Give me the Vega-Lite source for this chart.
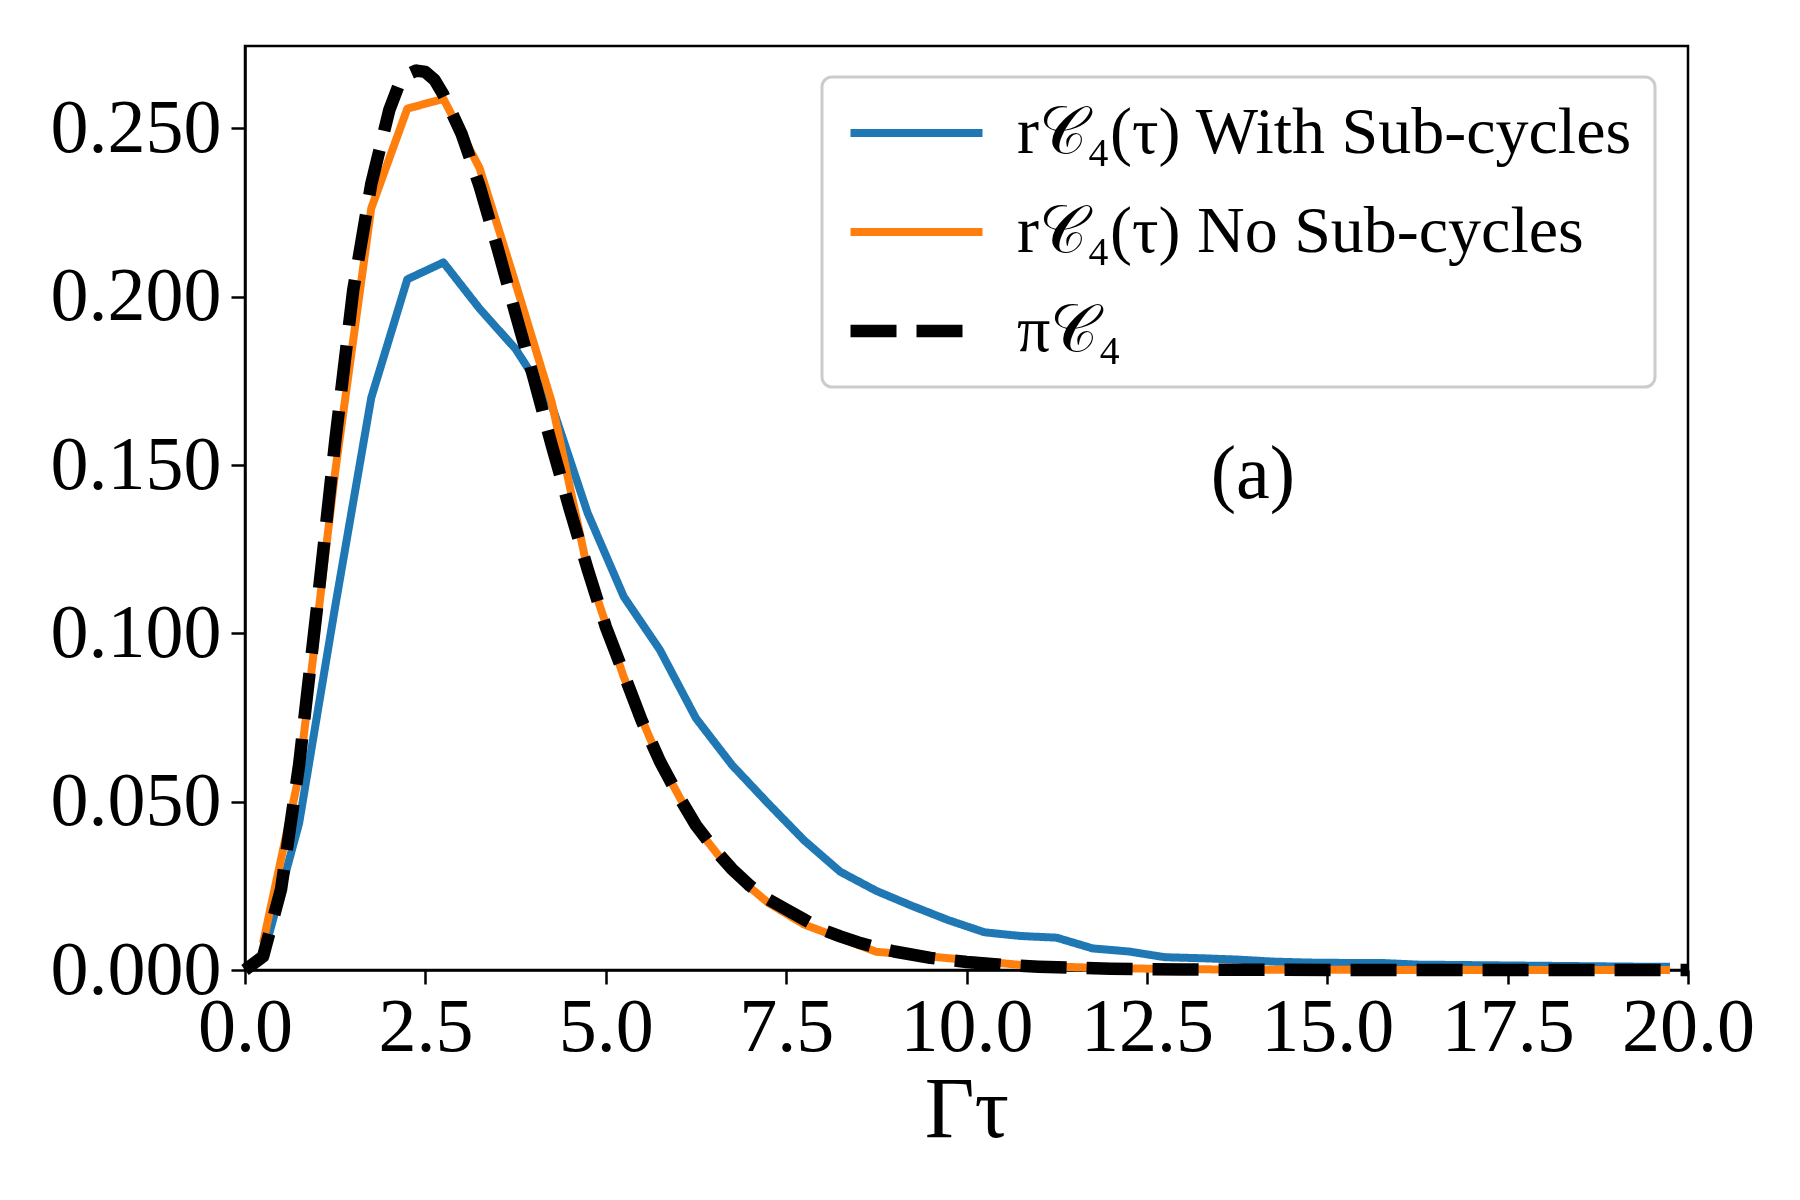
{
  "$schema": "https://vega.github.io/schema/vega-lite/v6.json",
  "width": 1443,
  "height": 924,
  "autosize": {"type": "none"},
  "padding": {"left": 245, "top": 46, "right": 112, "bottom": 230},
  "background": "white",
  "layer": [
    {
      "data": {
        "values": [
          {"x": 0.25, "y": 0.004, "s": "with"},
          {"x": 0.75, "y": 0.0436, "s": "with"},
          {"x": 1.25, "y": 0.108, "s": "with"},
          {"x": 1.75, "y": 0.170, "s": "with"},
          {"x": 2.25, "y": 0.2052, "s": "with"},
          {"x": 2.75, "y": 0.2102, "s": "with"},
          {"x": 3.25, "y": 0.1965, "s": "with"},
          {"x": 3.75, "y": 0.1845, "s": "with"},
          {"x": 4.25, "y": 0.1679, "s": "with"},
          {"x": 4.75, "y": 0.1357, "s": "with"},
          {"x": 5.25, "y": 0.1109, "s": "with"},
          {"x": 5.75, "y": 0.0951, "s": "with"},
          {"x": 6.25, "y": 0.0748, "s": "with"},
          {"x": 6.75, "y": 0.0609, "s": "with"},
          {"x": 7.25, "y": 0.0495, "s": "with"},
          {"x": 7.75, "y": 0.0385, "s": "with"},
          {"x": 8.25, "y": 0.0292, "s": "with"},
          {"x": 8.75, "y": 0.0235, "s": "with"},
          {"x": 9.25, "y": 0.0190, "s": "with"},
          {"x": 9.75, "y": 0.0148, "s": "with"},
          {"x": 10.25, "y": 0.0112, "s": "with"},
          {"x": 10.75, "y": 0.0101, "s": "with"},
          {"x": 11.25, "y": 0.0096, "s": "with"},
          {"x": 11.75, "y": 0.0064, "s": "with"},
          {"x": 12.25, "y": 0.0055, "s": "with"},
          {"x": 12.75, "y": 0.0038, "s": "with"},
          {"x": 13.25, "y": 0.0035, "s": "with"},
          {"x": 13.75, "y": 0.0031, "s": "with"},
          {"x": 14.25, "y": 0.0025, "s": "with"},
          {"x": 14.75, "y": 0.0022, "s": "with"},
          {"x": 15.25, "y": 0.0021, "s": "with"},
          {"x": 15.75, "y": 0.0021, "s": "with"},
          {"x": 16.25, "y": 0.0016, "s": "with"},
          {"x": 16.75, "y": 0.0015, "s": "with"},
          {"x": 17.25, "y": 0.0014, "s": "with"},
          {"x": 17.75, "y": 0.0013, "s": "with"},
          {"x": 18.25, "y": 0.0012, "s": "with"},
          {"x": 18.75, "y": 0.0011, "s": "with"},
          {"x": 19.25, "y": 0.0010, "s": "with"},
          {"x": 19.75, "y": 0.0010, "s": "with"},
          {"x": 0.25, "y": 0.008, "s": "no"},
          {"x": 0.75, "y": 0.058, "s": "no"},
          {"x": 1.25, "y": 0.148, "s": "no"},
          {"x": 1.75, "y": 0.2263, "s": "no"},
          {"x": 2.25, "y": 0.2559, "s": "no"},
          {"x": 2.75, "y": 0.2588, "s": "no"},
          {"x": 3.25, "y": 0.2383, "s": "no"},
          {"x": 3.75, "y": 0.2040, "s": "no"},
          {"x": 4.25, "y": 0.1688, "s": "no"},
          {"x": 4.75, "y": 0.1188, "s": "no"},
          {"x": 5.25, "y": 0.0870, "s": "no"},
          {"x": 5.75, "y": 0.0620, "s": "no"},
          {"x": 6.25, "y": 0.0425, "s": "no"},
          {"x": 6.75, "y": 0.0290, "s": "no"},
          {"x": 7.25, "y": 0.0200, "s": "no"},
          {"x": 7.75, "y": 0.0135, "s": "no"},
          {"x": 8.25, "y": 0.0095, "s": "no"},
          {"x": 8.75, "y": 0.0054, "s": "no"},
          {"x": 9.25, "y": 0.0045, "s": "no"},
          {"x": 9.75, "y": 0.0035, "s": "no"},
          {"x": 10.25, "y": 0.0025, "s": "no"},
          {"x": 10.75, "y": 0.0015, "s": "no"},
          {"x": 11.25, "y": 0.0010, "s": "no"},
          {"x": 11.75, "y": 0.0007, "s": "no"},
          {"x": 12.25, "y": 0.0005, "s": "no"},
          {"x": 12.75, "y": 0.0003, "s": "no"},
          {"x": 13.25, "y": 0.0002, "s": "no"},
          {"x": 14.25, "y": 0.0001, "s": "no"},
          {"x": 15.25, "y": 0.0001, "s": "no"},
          {"x": 16.25, "y": 0.0, "s": "no"},
          {"x": 17.25, "y": 0.0, "s": "no"},
          {"x": 18.25, "y": 0.0, "s": "no"},
          {"x": 19.75, "y": 0.0, "s": "no"},
          {"x": 0.0, "y": 0.0, "s": "pi"},
          {"x": 0.25, "y": 0.004, "s": "pi"},
          {"x": 0.5, "y": 0.024, "s": "pi"},
          {"x": 0.75, "y": 0.061, "s": "pi"},
          {"x": 1.0, "y": 0.108, "s": "pi"},
          {"x": 1.25, "y": 0.157, "s": "pi"},
          {"x": 1.5, "y": 0.202, "s": "pi"},
          {"x": 1.75, "y": 0.2335, "s": "pi"},
          {"x": 2.0, "y": 0.2555, "s": "pi"},
          {"x": 2.125, "y": 0.2625, "s": "pi"},
          {"x": 2.25, "y": 0.2660, "s": "pi"},
          {"x": 2.375, "y": 0.2672, "s": "pi"},
          {"x": 2.5, "y": 0.2668, "s": "pi"},
          {"x": 2.625, "y": 0.2645, "s": "pi"},
          {"x": 2.75, "y": 0.2600, "s": "pi"},
          {"x": 3.0, "y": 0.2485, "s": "pi"},
          {"x": 3.25, "y": 0.233, "s": "pi"},
          {"x": 3.5, "y": 0.2145, "s": "pi"},
          {"x": 3.75, "y": 0.195, "s": "pi"},
          {"x": 4.0, "y": 0.176, "s": "pi"},
          {"x": 4.25, "y": 0.156, "s": "pi"},
          {"x": 4.5, "y": 0.137, "s": "pi"},
          {"x": 4.75, "y": 0.119, "s": "pi"},
          {"x": 5.0, "y": 0.102, "s": "pi"},
          {"x": 5.25, "y": 0.088, "s": "pi"},
          {"x": 5.5, "y": 0.074, "s": "pi"},
          {"x": 5.75, "y": 0.062, "s": "pi"},
          {"x": 6.0, "y": 0.052, "s": "pi"},
          {"x": 6.25, "y": 0.043, "s": "pi"},
          {"x": 6.5, "y": 0.036, "s": "pi"},
          {"x": 6.75, "y": 0.030, "s": "pi"},
          {"x": 7.0, "y": 0.025, "s": "pi"},
          {"x": 7.25, "y": 0.021, "s": "pi"},
          {"x": 7.5, "y": 0.018, "s": "pi"},
          {"x": 7.75, "y": 0.015, "s": "pi"},
          {"x": 8.0, "y": 0.012, "s": "pi"},
          {"x": 8.25, "y": 0.010, "s": "pi"},
          {"x": 8.5, "y": 0.0082, "s": "pi"},
          {"x": 8.75, "y": 0.0067, "s": "pi"},
          {"x": 9.0, "y": 0.0055, "s": "pi"},
          {"x": 9.5, "y": 0.0036, "s": "pi"},
          {"x": 10.0, "y": 0.0024, "s": "pi"},
          {"x": 10.5, "y": 0.0015, "s": "pi"},
          {"x": 11.0, "y": 0.0010, "s": "pi"},
          {"x": 12.0, "y": 0.0004, "s": "pi"},
          {"x": 13.0, "y": 0.00015, "s": "pi"},
          {"x": 14.0, "y": 0.00005, "s": "pi"},
          {"x": 16.0, "y": 0.00001, "s": "pi"},
          {"x": 20.0, "y": 0.0, "s": "pi"}
        ]
      },
      "mark": {"type": "line", "strokeCap": "butt", "strokeJoin": "round"},
      "encoding": {
        "x": {
          "field": "x",
          "type": "quantitative",
          "scale": {"domain": [0, 20], "nice": false, "zero": false},
          "axis": {
            "values": [0, 2.5, 5, 7.5, 10, 12.5, 15, 17.5, 20],
            "format": ".1f",
            "title": "Γτ",
            "titleFontSize": 86,
            "titleFontWeight": "normal",
            "titlePadding": 3,
            "labelPadding": 6
          }
        },
        "y": {
          "field": "y",
          "type": "quantitative",
          "scale": {"domain": [0, 0.2745], "nice": false},
          "axis": {
            "values": [0, 0.05, 0.1, 0.15, 0.2, 0.25],
            "format": ".3f",
            "title": null,
            "labelPadding": 10
          }
        },
        "color": {
          "field": "s",
          "type": "nominal",
          "scale": {"domain": ["with", "no", "pi"], "range": ["#1f77b4", "#ff7f0e", "#000000"]},
          "legend": {
            "title": null,
            "orient": "none",
            "legendX": 577,
            "legendY": 31,
            "labelExpr": "datum.value == 'with' ? 'r𝒞₄(τ) With Sub-cycles' : datum.value == 'no' ? 'r𝒞₄(τ) No Sub-cycles' : 'π𝒞₄'"
          }
        },
        "strokeDash": {
          "field": "s",
          "type": "nominal",
          "scale": {"domain": ["with", "no", "pi"], "range": [[1, 0], [1, 0], [46, 20]]},
          "legend": {
            "title": null,
            "orient": "none",
            "legendX": 577,
            "legendY": 31,
            "labelExpr": "datum.value == 'with' ? 'r𝒞₄(τ) With Sub-cycles' : datum.value == 'no' ? 'r𝒞₄(τ) No Sub-cycles' : 'π𝒞₄'"
          }
        },
        "strokeWidth": {
          "field": "s",
          "type": "nominal",
          "scale": {"type": "ordinal", "domain": ["with", "no", "pi"], "range": [8, 8, 12.5]},
          "legend": {
            "title": null,
            "orient": "none",
            "legendX": 577,
            "legendY": 31,
            "labelExpr": "datum.value == 'with' ? 'r𝒞₄(τ) With Sub-cycles' : datum.value == 'no' ? 'r𝒞₄(τ) No Sub-cycles' : 'π𝒞₄'"
          }
        }
      }
    },
    {
      "data": {"values": [{"x": 13.97, "y": 0.147, "t": "(a)"}]},
      "mark": {"type": "text", "fontSize": 76, "font": "Liberation Serif", "baseline": "middle", "align": "center", "color": "black"},
      "encoding": {
        "x": {"field": "x", "type": "quantitative"},
        "y": {"field": "y", "type": "quantitative"},
        "text": {"field": "t"}
      }
    }
  ],
  "config": {
    "font": "Liberation Serif",
    "view": {"stroke": "black", "strokeWidth": 2.5},
    "axis": {
      "domainColor": "black",
      "domainWidth": 2.5,
      "tickColor": "black",
      "tickWidth": 2.5,
      "tickSize": 14,
      "grid": false,
      "labelFont": "Liberation Serif",
      "labelFontSize": 76,
      "labelColor": "black",
      "labelFlush": false,
      "labelOverlap": false,
      "titleFont": "Liberation Serif",
      "titleColor": "black"
    },
    "legend": {
      "symbolType": "stroke",
      "symbolSize": 17424,
      "labelFont": "Liberation Serif",
      "labelFontSize": 66,
      "labelColor": "black",
      "labelLimit": 1000,
      "labelOffset": 28,
      "clipHeight": 68,
      "rowPadding": 31,
      "padding": 22,
      "fillColor": "white",
      "strokeColor": "#cccccc",
      "strokeWidth": 3,
      "cornerRadius": 10
    }
  }
}
